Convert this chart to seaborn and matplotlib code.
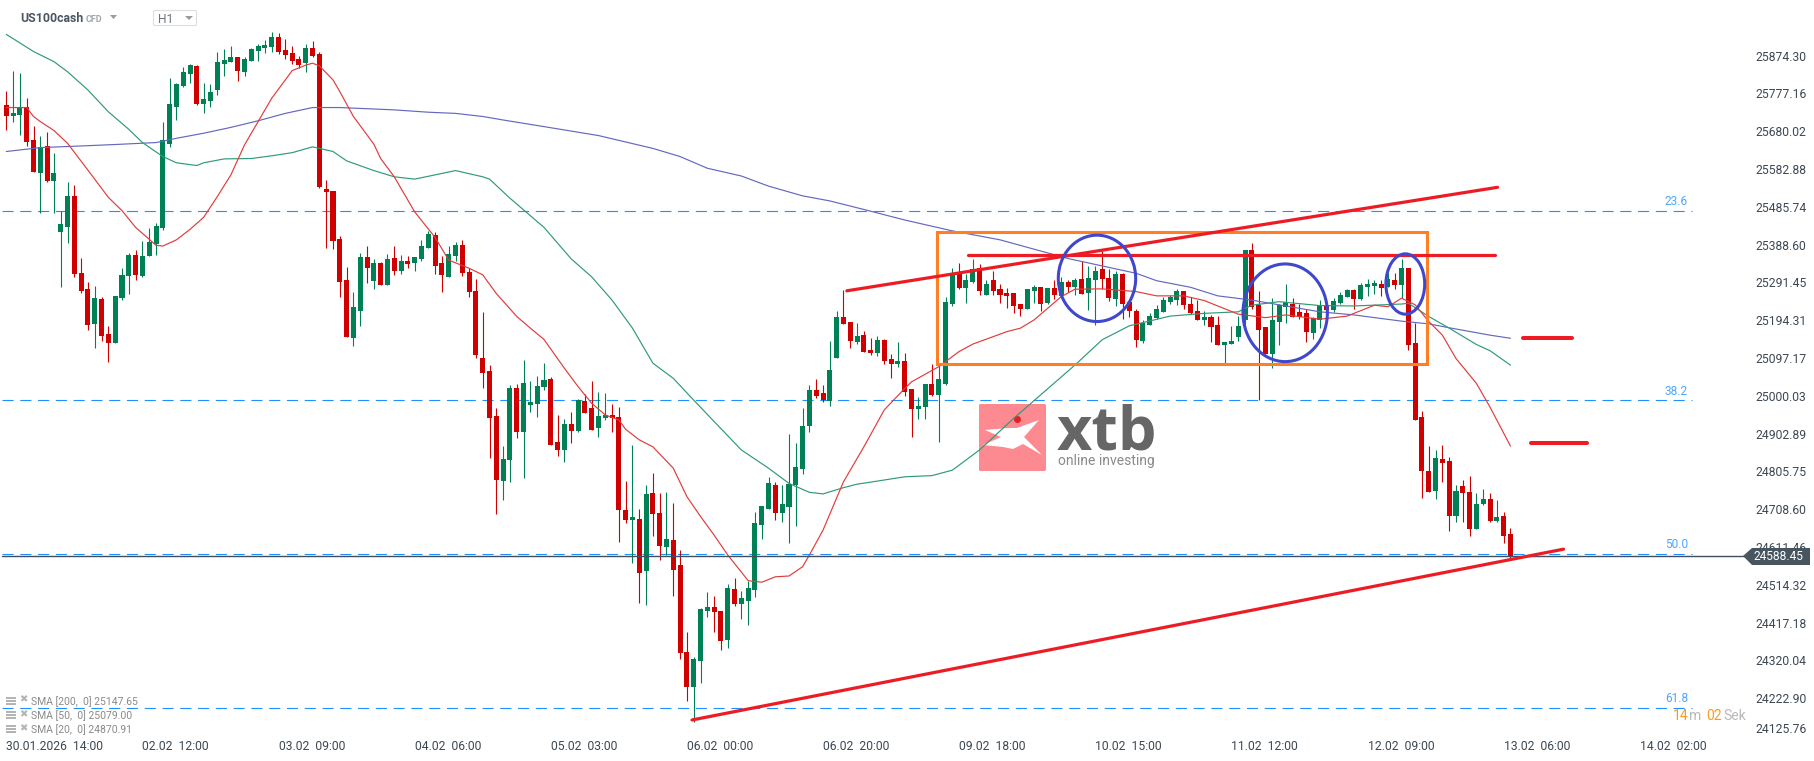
import matplotlib
matplotlib.use("Agg")
import matplotlib.pyplot as plt
import matplotlib.patches as mpatches
from matplotlib.transforms import Affine2D
import numpy as np
import seaborn as sns

# ── candles (H1), prices ──────────────────────────────────────────────────────
candle_dir = ("RGGRRGRGGG" "RRRGRRGGGR" "GGGGGGGGRG" "GGGGRGGGGG" "RRRRGRRRRR"
              "RGGRGRGRGR" "GGGRRGGRRR" "RRRGGRGGGG" "RRGRGRRGGR" "RRGRGRRGRR"
              "RGGGRRGRGG" "GGGRGGGGGR" "RGGRRGRRGR" "RGRRGGRGGG" "RGGRGRRRRR"
              "GGRGRGRGRG" "GRRGRRRGGG" "GGGRRRGRRG" "GGGRRRGGGR" "RRGGRGGGRG"
              "GGRGRGRRRR" "GRRGRRGGRG" "RR")

high = [25784,25835,25830,25765,25694,25668,25677,25623,25474,25550,
        25542,25354,25292,25282,25254,25180,25257,25329,25367,25375,
        25398,25431,25443,25704,25817,25804,25845,25853,25850,25804,
        25802,25884,25891,25899,25871,25871,25894,25904,25915,25935,
        25933,25917,25899,25873,25904,25912,25884,25555,25526,25411,
        25331,25267,25367,25385,25352,25344,25365,25385,25362,25359,
        25357,25401,25424,25421,25359,25385,25395,25401,25329,25300,
        25216,25079,24969,24871,25028,25031,25092,25038,25051,25084,
        25048,24951,24941,24959,24992,25005,25038,25010,25007,24979,
        24971,24781,24874,24709,24771,24802,24750,24753,24725,24604,
        24393,24329,24455,24496,24486,24447,24516,24532,24498,24524,
        24702,24717,24791,24779,24771,24902,24879,24969,25028,25043,
        25028,25141,25218,25272,25190,25187,25167,25149,25154,25146,
        25108,25138,25110,25018,24997,25031,25082,25079,25253,25328,
        25341,25313,25353,25339,25299,25321,25287,25277,25264,25236,
        25275,25285,25280,25277,25298,25306,25298,25302,25347,25334,
        25334,25372,25326,25321,25316,25246,25223,25195,25213,25234,
        25254,25259,25275,25270,25254,25246,25218,25208,25205,25138,
        25180,25205,25375,25393,25270,25177,25251,25236,25288,25251,
        25236,25223,25203,25246,25234,25251,25267,25274,25275,25290,
        25300,25297,25298,25315,25316,25352,25329,25187,24961,24871,
        24861,24874,24843,24771,24784,24794,24750,24761,24750,24732,
        24702,24660]

body_top = [25748,25727,25742,25742,25658,25640,25642,25573,25442,25514,
            25514,25316,25275,25251,25249,25159,25257,25311,25362,25362,
            25359,25395,25437,25658,25750,25802,25832,25850,25848,25763,
            25781,25858,25863,25871,25871,25866,25891,25899,25902,25922,
            25922,25889,25881,25866,25894,25894,25879,25532,25526,25403,
            25298,25228,25357,25357,25342,25342,25352,25354,25347,25347,
            25357,25385,25416,25413,25342,25365,25388,25388,25318,25270,
            25097,25064,24948,24838,25020,25020,25033,24984,25025,25041,
            25043,24881,24928,24928,24989,24987,24969,24948,24951,24951,
            24946,24707,24689,24684,24748,24750,24699,24632,24630,24565,
            24342,24324,24452,24457,24457,24447,24506,24504,24480,24506,
            24673,24717,24776,24771,24722,24773,24817,24923,25015,25015,
            25007,25066,25203,25203,25190,25154,25156,25118,25144,25144,
            25095,25090,25090,25018,24974,25031,25031,25043,25241,25317,
            25317,25298,25325,25328,25287,25299,25275,25264,25264,25236,
            25275,25280,25280,25277,25277,25293,25293,25298,25300,25303,
            25321,25326,25303,25313,25313,25241,25218,25187,25205,25223,
            25246,25254,25270,25270,25236,25218,25203,25203,25182,25138,
            25141,25180,25375,25375,25234,25177,25195,25234,25241,25236,
            25216,25213,25200,25234,25231,25244,25259,25272,25272,25285,
            25287,25290,25287,25300,25298,25329,25329,25136,24946,24807,
            24840,24838,24833,24755,24768,24753,24722,24735,24735,24689,
            24691,24645]

body_bottom = [25719,25720,25722,25652,25575,25574,25551,25552,25421,25434,
               25313,25270,25182,25185,25154,25136,25136,25251,25308,25311,
               25308,25359,25390,25431,25647,25742,25796,25827,25750,25750,
               25758,25786,25853,25858,25835,25832,25861,25886,25894,25897,
               25884,25876,25861,25850,25855,25873,25537,25524,25398,25293,
               25151,25149,25218,25329,25295,25285,25285,25321,25321,25339,
               25342,25352,25380,25334,25311,25306,25359,25316,25267,25105,
               25059,24943,24784,24781,24835,24907,24907,24977,24979,25023,
               24874,24861,24861,24910,24910,24956,24912,24917,24943,24943,
               24707,24681,24681,24545,24550,24696,24614,24612,24552,24339,
               24252,24252,24319,24447,24444,24370,24372,24465,24465,24473,
               24501,24668,24709,24699,24699,24714,24771,24812,24923,25000,
               24989,24987,25097,25185,25141,25138,25113,25110,25110,25090,
               25082,25082,25010,24966,24966,24971,25002,25002,25031,25236,
               25276,25277,25293,25270,25259,25270,25259,25257,25231,25223,
               25223,25270,25236,25239,25259,25257,25280,25280,25262,25264,
               25298,25300,25252,25249,25236,25218,25144,25141,25182,25200,
               25216,25241,25246,25234,25213,25195,25195,25177,25131,25131,
               25133,25151,25195,25228,25169,25108,25108,25190,25228,25203,
               25203,25164,25162,25195,25221,25221,25239,25254,25249,25249,
               25280,25282,25277,25280,25285,25285,25131,24938,24807,24753,
               24755,24827,24691,24691,24750,24658,24658,24722,24678,24678,
               24640,24588]

low = [25682,25705,25670,25642,25575,25469,25550,25471,25281,25394,
       25305,25264,25169,25124,25141,25088,25136,25246,25262,25298,
       25305,25359,25362,25426,25640,25709,25794,25804,25748,25727,
       25742,25773,25822,25858,25809,25822,25861,25861,25881,25884,
       25879,25866,25853,25842,25832,25871,25534,25380,25377,25254,
       25151,25128,25180,25290,25275,25285,25285,25311,25313,25329,
       25321,25347,25380,25313,25267,25306,25347,25308,25254,25097,
       25020,24840,24696,24732,24779,24892,24789,24959,24946,25015,
       24874,24845,24830,24879,24907,24956,24912,24894,24938,24907,
       24624,24673,24570,24468,24462,24640,24578,24591,24486,24324,
       24216,24162,24262,24432,24393,24347,24352,24460,24427,24411,
       24483,24632,24709,24681,24676,24622,24666,24799,24907,24995,
       24984,24974,25097,25185,25123,25133,25113,25105,25102,25082,
       25046,25074,25000,24894,24941,24941,25000,24881,25028,25231,
       25274,25239,25290,25259,25259,25259,25239,25226,25213,25205,
       25223,25239,25218,25236,25249,25257,25267,25259,25262,25221,
       25182,25275,25244,25231,25198,25203,25126,25136,25182,25198,
       25216,25236,25234,25223,25210,25195,25182,25138,25131,25084,
       25133,25141,25169,25223,24989,25108,25072,25131,25187,25203,
       25198,25138,25146,25174,25210,25216,25236,25254,25223,25246,
       25257,25262,25257,25280,25275,25251,25118,24938,24737,24753,
       24735,24779,24653,24676,24676,24640,24658,24719,24676,24676,
       24622,24582]

# ── moving averages: bar number / value ───────────────────────────────────────
sma20_bar = [0,3,4,5,7,9,12,15,17,19,22,23,25,27,29,31,33,35,37,39,41,42,44,45,46,48,49,51,54,55,57,60,63,65,68,70,
             72,75,77,79,82,84,86,88,90,91,93,95,98,100,102,104,106,109,111,113,115,117,118,120,123,125,126,129,132,
             133,137,140,142,147,149,151,155,157,161,166,169,173,176,181,185,188,193,197,201,203,205,207,209,211,213,216,218,221]
sma20_val = [25741,25741,25718,25705,25682,25649,25580,25510,25476,25433,25387,25385,25401,25428,25459,25512,25568,25645,25705,25765,25812,25836,25850,25855,25848,25812,25782,25718,25647,25610,25563,25473,25407,25349,25328,25311,
             25263,25204,25174,25145,25071,25024,24981,24951,24938,24914,24887,24869,24814,24741,24690,24642,24591,24525,24521,24535,24537,24561,24591,24655,24779,24839,24869,24964,25019,
             25036,25075,25114,25133,25165,25174,25195,25255,25274,25275,25268,25257,25257,25245,25210,25201,25208,25197,25205,25233,25229,25251,25234,25191,25156,25096,25032,24971,24871]

sma50_bar = [0,4,7,9,12,15,18,20,23,25,28,29,32,36,39,42,45,48,50,54,57,60,63,66,70,71,74,79,83,86,89,92,95,98,101,104,108,112,115,118,120,
             123,125,128,132,136,139,141,143,148,157,161,165,171,176,181,183,187,193,198,205,206,209,212,216,218,221]
sma50_val = [25929,25885,25859,25833,25786,25730,25685,25651,25615,25599,25592,25599,25609,25610,25617,25625,25640,25628,25604,25579,25563,25557,25568,25579,25563,25557,25508,25433,25352,25306,25246,25174,25084,25045,24989,24934,24861,24814,24775,24752,24748,
             24764,24773,24781,24792,24795,24809,24835,24861,24942,25079,25144,25180,25205,25212,25216,25233,25242,25232,25231,25236,25238,25204,25174,25132,25116,25079]

sma200_bar = [0,5,12,16,22,25,29,33,37,41,45,49,57,62,66,70,73,79,87,95,99,103,108,112,117,121,126,132,137,139,146,151,156,166,169,174,178,183,187,193,198,205,209,212,218,221]
sma200_val = [25628,25638,25643,25646,25651,25662,25675,25690,25707,25726,25741,25741,25735,25729,25726,25718,25709,25692,25669,25636,25615,25585,25565,25539,25514,25501,25479,25452,25432,25424,25401,25377,25353,25315,25296,25279,25257,25246,25234,25216,25208,25192,25185,25175,25156,25148]

# ── levels and drawings ───────────────────────────────────────────────────────
last_price = 24588.45
fib_names  = ["23.6", "38.2", "50.0", "61.8"]
fib_levels = [25476, 24989, 24594, 24199]

y_ticks = [25874.30,25777.16,25680.02,25582.88,25485.74,25388.60,25291.45,25194.31,25097.17,25000.03,
           24902.89,24805.75,24708.60,24611.46,24514.32,24417.18,24320.04,24222.90,24125.76]
x_tick_bars = [0,20,40,60,80,100,120,140,160,180,200,220,240]
x_tick_labels = ["30.01.2026  14:00","02.02  12:00","03.02  09:00","04.02  06:00","05.02  03:00","06.02  00:00",
                 "06.02  20:00","09.02  18:00","10.02  15:00","11.02  12:00","12.02  09:00","13.02  06:00","14.02  02:00"]

legend_rows = ["SMA [200,  0] 25147.65", "SMA [50,  0] 25079.00", "SMA [20,  0] 24870.91"]

RED, GREEN = "#d00000", "#008055"
LINE_RED, LINE_GREEN, LINE_BLUE = "#e23b3b", "#2f9a78", "#6468bd"
DRAW_RED, ORANGE, CIRCLE = "#ed1c24", "#ff7f27", "#3f48cc"
TEXT = "#3c4854"

sns.set_theme(style="white")
plt.rcParams["font.family"] = ["Roboto", "DejaVu Sans"]

fig = plt.figure(figsize=(18.15, 7.61), dpi=100, facecolor="white")
ax = fig.add_axes([0, (761 - 736.5) / 761, 1745 / 1815, 736.5 / 761])
ax.set_xlim(-0.926, 255.46)
ax.set_ylim(24124.5, 26017.4)
sns.despine(ax=ax, left=True, right=True, top=True, bottom=True)

# pixel space, for the screen furniture only
px = Affine2D().scale(1, -1).translate(0, 761)


def ptxt(x, y, s, size, color, **kw):
    kw.setdefault("va", "center")
    ax.text(x, y, s, transform=px, fontsize=size * 0.72, color=color, clip_on=False, zorder=12, **kw)


def ppoly(points, color, z=12, **kw):
    ax.add_patch(mpatches.Polygon(points, closed=True, transform=px, facecolor=color,
                                  edgecolor="none", clip_on=False, zorder=z, **kw))


# ── logo ──────────────────────────────────────────────────────────────────────
ax.add_patch(mpatches.FancyBboxPatch((979, 404), 67, 67, boxstyle="round,pad=0,rounding_size=1.5", transform=px,
                                     facecolor="#fc8a90", edgecolor="none", clip_on=False, zorder=1))
ppoly([(1039, 420), (1017, 428), (1008, 428), (985, 430), (1001, 437), (983, 445), (1003, 447), (1013, 449),
       (1023, 444), (1042, 455), (1024, 437)], "white", z=1.1)
ax.text(1057, 449, "xtb", transform=px, fontsize=44, fontweight="bold", family="Open Sans", color="#666666",
        va="baseline", clip_on=False, zorder=1.1)
ax.text(1058, 465, "online investing", transform=px, fontsize=10, color="#8a8a8a", va="baseline",
        clip_on=False, zorder=1.1)
ax.plot([1017], [419], transform=px, marker="o", ms=4, color=DRAW_RED, clip_on=False, zorder=1.2)

# ── fib levels / last price ───────────────────────────────────────────────────
for lvl, name in zip(fib_levels, fib_names):
    ax.plot([-0.6, 247.7], [lvl, lvl], color="#1e90ff", lw=0.8, ls=(0, (10, 6)), zorder=1.5)
    ax.text(243.7, lvl + 23, name, color="#4da6ff", fontsize=8.6, va="center", ha="left", zorder=1.6)
ax.plot([-0.6, 255.46], [last_price, last_price], color="#3e5060", lw=1.0, zorder=3.5)

# ── candles ───────────────────────────────────────────────────────────────────
bars = np.arange(len(high))
colors = [RED if d == "R" else GREEN for d in candle_dir]
ax.vlines(bars, low, high, colors=colors, lw=0.8, zorder=2)
ax.bar(bars, np.array(body_top) - np.array(body_bottom), bottom=body_bottom, width=0.74, color=colors,
       linewidth=0, zorder=2.1)

# ── SMAs ──────────────────────────────────────────────────────────────────────
for xs, ys, col in [(sma200_bar, sma200_val, LINE_BLUE), (sma50_bar, sma50_val, LINE_GREEN), (sma20_bar, sma20_val, LINE_RED)]:
    sns.lineplot(x=xs, y=ys, color=col, lw=0.85, estimator=None, sort=False, legend=False, ax=ax, zorder=3)

# ── drawings ──────────────────────────────────────────────────────────────────
ax.plot([100.75, 228.8], [24167, 24606], color=DRAW_RED, lw=2.3, zorder=5)
ax.plot([123.5, 219.1], [25270, 25536], color=DRAW_RED, lw=2.3, zorder=5)
ax.plot([141.3, 218.7], [25361, 25361], color=DRAW_RED, lw=2.3, zorder=5)
ax.plot([222.9, 230.0], [25148, 25148], color=DRAW_RED, lw=2.9, solid_capstyle="round", zorder=5)
ax.plot([224.0, 232.2], [24878, 24878], color=DRAW_RED, lw=2.9, solid_capstyle="round", zorder=5)
ax.add_patch(mpatches.Rectangle((136.8, 25081), 71.9, 339, fill=False, edgecolor=ORANGE, lw=2.2, zorder=4))
for cx, cy, w, h in [(160.25, 25302, 11.37, 222), (187.9, 25213.5, 12.4, 251), (205.55, 25287.5, 5.7, 155)]:
    ax.add_patch(mpatches.Ellipse((cx, cy), w, h, fill=False, edgecolor=CIRCLE, lw=2.2, zorder=6))

# ── axes ticks ────────────────────────────────────────────────────────────────
ax.yaxis.tick_right()
ax.set_yticks(y_ticks, [f"{v:.2f}" for v in y_ticks])
ax.set_xticks(x_tick_bars, x_tick_labels)
ax.tick_params(axis="y", length=0, pad=7.2, labelsize=8.7, labelcolor=TEXT)
ax.tick_params(axis="x", length=0, pad=2.2, labelsize=8.7, labelcolor=TEXT)
for lab in ax.get_xticklabels():
    lab.set_ha("left")
ax.get_yticklabels()[-1].set_va("bottom")

# ── price tag ─────────────────────────────────────────────────────────────────
ppoly([(1743, 556), (1752, 548), (1810, 548), (1810, 565), (1752, 565)], "#46555f")
ptxt(1754, 557, "24588.45", 12, "white")

# ── header ────────────────────────────────────────────────────────────────────
ptxt(20, 18.5, "US100cash", 12.2, "#4a5561", fontweight="bold")
ptxt(86, 19.5, "CFD", 9, "#a0a6ac", fontweight="bold")
ppoly([(110, 15), (117, 15), (113.5, 19)], "#9a9a9a")
ax.add_patch(mpatches.FancyBboxPatch((153.5, 10.5), 43, 15, boxstyle="round,pad=0,rounding_size=1.5", transform=px,
                                     facecolor="white", edgecolor="#dddddd", lw=0.8, clip_on=False, zorder=11))
ptxt(158, 19.5, "H1", 12, "#6b7278")
ppoly([(185, 16), (193, 16), (189, 20)], "#9a9a9a")

# ── SMA legend ────────────────────────────────────────────────────────────────
for y, row in zip([701.7, 716, 730], legend_rows):
    for dy in (-5, -2, 1):
        ppoly([(6, y + dy), (16, y + dy), (16, y + dy + 1.8), (6, y + dy + 1.8)], "#b4b4b4")
    ptxt(19.5, y - 2, "\u2716", 10, "#b4b4b4", family="DejaVu Sans")
    ptxt(31, y, row, 10.4, "#8a8a8a")

# ── countdown ─────────────────────────────────────────────────────────────────
ptxt(1673, 716, "14", 14, "#ff9a1f")
ptxt(1689, 716, "m", 14, "#b8b8b8")
ptxt(1706, 716, "02", 14, "#ff9a1f")
ptxt(1723, 716, "Sek", 14, "#b8b8b8")

fig.savefig("out.png", dpi=100, facecolor="white")
plt.close(fig)
